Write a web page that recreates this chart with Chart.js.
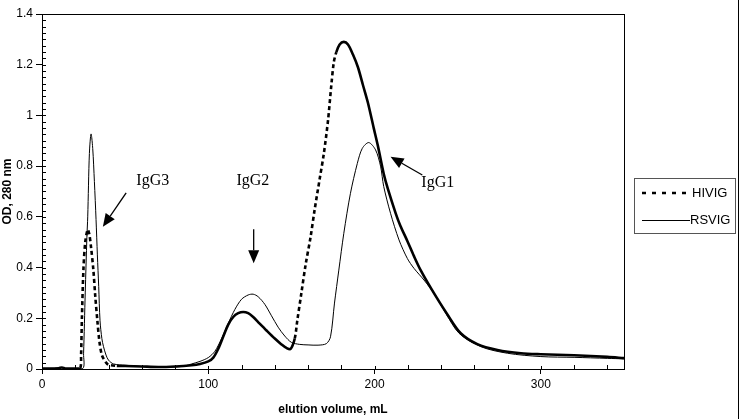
<!DOCTYPE html>
<html>
<head>
<meta charset="utf-8">
<script src="https://cdn.jsdelivr.net/npm/chart.js@4.4.1/dist/chart.umd.min.js"></script>
<style>
html,body{margin:0;padding:0;background:#fff;}
#wrap{width:742px;height:419px;position:relative;}
</style>
</head>
<body>
<div id="wrap"><canvas id="chromChart" width="742" height="419"></canvas></div>
<script>

// HIVIG (thick dashed) - elution volume mL / OD 280
const hivigX = [0,10,12,14,20,23,23.5,24,24.9,26,27.5,28.5,29.5,30.9,32,33.3,34.5,36,38,40,45,50,60,70,80,90,95,100,103,106,109,112,115,118,121,124,127,130,135,140,144,147,149.5,152,153.5,156,158.5,161.5,164,167,169.5,172,174,175.5,177,179,181.5,184,187,190,193,196,199.5,202,205.5,208,212.7,215.5,219.7,223.7,227.7,234.7,243.8,251.8,261.8,273.9,288,300,320,340,350];
const hivigY = [0.002,0.003,0.006,0.002,0.002,0.004,0.055,0.2,0.39,0.5,0.55,0.53,0.48,0.39,0.29,0.19,0.11,0.055,0.03,0.017,0.012,0.012,0.01,0.008,0.01,0.015,0.02,0.03,0.045,0.08,0.128,0.175,0.205,0.22,0.225,0.22,0.205,0.185,0.152,0.12,0.097,0.083,0.079,0.12,0.19,0.3,0.41,0.52,0.63,0.75,0.85,0.98,1.12,1.21,1.25,1.28,1.29,1.28,1.24,1.19,1.12,1.05,0.95,0.88,0.77,0.71,0.614,0.565,0.505,0.445,0.39,0.31,0.215,0.141,0.098,0.075,0.062,0.058,0.054,0.048,0.043];

// RSVIG (thin solid)
const rsvigX = [0,10,12,14,24.5,25,26,27,27.5,28.5,29.5,30.5,31.5,32.5,33.3,34.1,34.9,36,37,38.5,40,43,50,60,70,80,86,90,95,100,104,108,112,116,120,124,127,130,134,138,142,146,150,155,160,166,171,173.5,175.9,178.5,181.5,185.5,189.6,192.6,196.5,200.6,203.6,205.5,209.6,214.7,219.7,223.7,229.7,235.7,242.8,250.8,263.9,280,300,320,340,350];
const rsvigY = [0.002,0.003,0.006,0.002,0.002,0.06,0.3,0.52,0.6,0.85,0.927,0.87,0.74,0.59,0.45,0.325,0.19,0.12,0.088,0.055,0.035,0.02,0.015,0.01,0.007,0.008,0.012,0.02,0.03,0.045,0.07,0.12,0.18,0.235,0.275,0.292,0.295,0.285,0.255,0.21,0.165,0.13,0.105,0.097,0.095,0.094,0.1,0.127,0.26,0.39,0.535,0.693,0.81,0.87,0.893,0.864,0.8,0.72,0.614,0.509,0.436,0.397,0.351,0.298,0.22,0.141,0.088,0.062,0.049,0.046,0.042,0.04];

const xTicks = [0,100,200,300];
const yTicks = [0,0.2,0.4,0.6,0.8,1,1.2,1.4];

const seriesNames = ["HIVIG","RSVIG"];

// peak labels and arrows, in data units
const peakNotes = [
  {text:"IgG3", x:66.6, y:0.742, from:[50.6,0.695], to:[36.6,0.561]},
  {text:"IgG2", x:126.8, y:0.742, from:[127.3,0.551], to:[127.3,0.417]},
  {text:"IgG1", x:238, y:0.733, from:[228.7,0.765], to:[209.6,0.837]}
];

function pts(xs,ys){
return xs.map((x,i)=>({x:x,y:ys[i]}));
}

function arrow(ctx,x1,y1,x2,y2){
const a=Math.atan2(y2-y1,x2-x1);
const len=13, w=5.5;
const bx=x2-len*Math.cos(a), by=y2-len*Math.sin(a);
ctx.beginPath();
ctx.moveTo(x1,y1);
ctx.lineTo(bx,by);
ctx.stroke();
ctx.beginPath();
ctx.moveTo(x2,y2);
ctx.lineTo(bx+w*Math.sin(a),by-w*Math.cos(a));
ctx.lineTo(bx-w*Math.sin(a),by+w*Math.cos(a));
ctx.closePath();
ctx.fill();
}

const decor={
id:"decor",
afterDraw(chart){
const ctx=chart.ctx;
const xs=chart.scales.x, ys=chart.scales.y;
const a=chart.chartArea;
ctx.save();
ctx.strokeStyle="#000";
ctx.fillStyle="#000";
ctx.lineWidth=1;

// frame of plot
ctx.strokeRect(a.left+0.5,a.top+0.5,a.right-a.left,a.bottom-a.top);

// minor ticks inside
ctx.beginPath();
for(let v=20;v<350;v+=20){
if(v%100===0) continue;
const px=Math.round(xs.getPixelForValue(v))+0.5;
ctx.moveTo(px,a.bottom);
ctx.lineTo(px,a.bottom-4);
}
for(let v=100;v<350;v+=100){
const px=Math.round(xs.getPixelForValue(v))+0.5;
ctx.moveTo(px,a.bottom);
ctx.lineTo(px,a.bottom-3);
}
for(let i=1;i<56;i++){
const py=Math.round(ys.getPixelForValue(i*0.025))+0.5;
ctx.moveTo(a.left,py);
ctx.lineTo(a.left+4,py);
}
ctx.stroke();

// outer frame line
ctx.beginPath();
ctx.moveTo(738.5,0);
ctx.lineTo(738.5,419);
ctx.stroke();

// annotations
ctx.font="16px 'Liberation Serif', 'Times New Roman', serif";
ctx.textAlign="center";
ctx.textBaseline="middle";
ctx.lineWidth=1.3;
peakNotes.forEach(n=>{
ctx.fillText(n.text,xs.getPixelForValue(n.x),ys.getPixelForValue(n.y));
arrow(ctx,xs.getPixelForValue(n.from[0]),ys.getPixelForValue(n.from[1]),
xs.getPixelForValue(n.to[0]),ys.getPixelForValue(n.to[1]));
});

// legend
ctx.lineWidth=1;
ctx.strokeStyle="#555";
ctx.strokeRect(634.5,178.5,101,55);
ctx.strokeStyle="#000";
ctx.lineWidth=2.5;
ctx.setLineDash([4,6]);
ctx.beginPath();
ctx.moveTo(642,193);
ctx.lineTo(692,193);
ctx.stroke();
ctx.setLineDash([]);
ctx.lineWidth=1;
ctx.beginPath();
ctx.moveTo(642,220.5);
ctx.lineTo(690,220.5);
ctx.stroke();
ctx.font="13px 'Liberation Sans', Arial, sans-serif";
ctx.textAlign="left";
ctx.fillText(seriesNames[0],692,193);
ctx.fillText(seriesNames[1],690,220);
ctx.restore();
}
};

new Chart(document.getElementById("chromChart"),{
type:"line",
data:{
datasets:[{
label:seriesNames[0],
data:pts(hivigX,hivigY),
borderColor:"#000",
borderWidth:2.6,
pointRadius:0,
tension:0.3,
segment:{
borderDash:c=>{
const x0=c.p0.parsed.x;
return ((x0>=22&&x0<42)||(x0>=150&&x0<177))?[4,3]:[];
}
}
},{
label:seriesNames[1],
data:pts(rsvigX,rsvigY),
borderColor:"#000",
borderWidth:1,
pointRadius:0,
tension:0.3
}]
},
options:{
responsive:false,
animation:false,
layout:{padding:{top:14,right:118,left:0,bottom:0}},
plugins:{legend:{display:false},tooltip:{enabled:false}},
scales:{
x:{
type:"linear",
min:0,
max:350,
afterBuildTicks:s=>{s.ticks=xTicks.map(v=>({value:v}));},
afterFit:s=>{s.height=50;},
grid:{drawOnChartArea:false,tickLength:5,color:"#000"},
border:{color:"#000",width:1},
ticks:{color:"#000",padding:3,maxRotation:0,font:{family:"'Liberation Sans', Arial",size:12}},
title:{display:true,text:"elution volume, mL",color:"#000",padding:{top:0,bottom:2},font:{family:"'Liberation Sans', Arial",size:12,weight:"bold"}}
},
y:{
min:0,
max:1.4,
afterBuildTicks:s=>{s.ticks=yTicks.map(v=>({value:v}));},
afterFit:s=>{s.width=42;},
grid:{drawOnChartArea:false,tickLength:6,color:"#000"},
border:{color:"#000",width:1},
ticks:{color:"#000",padding:3,callback:v=>String(Math.round(v*10)/10),font:{family:"'Liberation Sans', Arial",size:12}},
title:{display:true,text:"OD, 280 nm",color:"#000",padding:{top:0,bottom:0},font:{family:"'Liberation Sans', Arial",size:12,weight:"bold"}}
}
}
},
plugins:[decor]
});
</script>
</body>
</html>
